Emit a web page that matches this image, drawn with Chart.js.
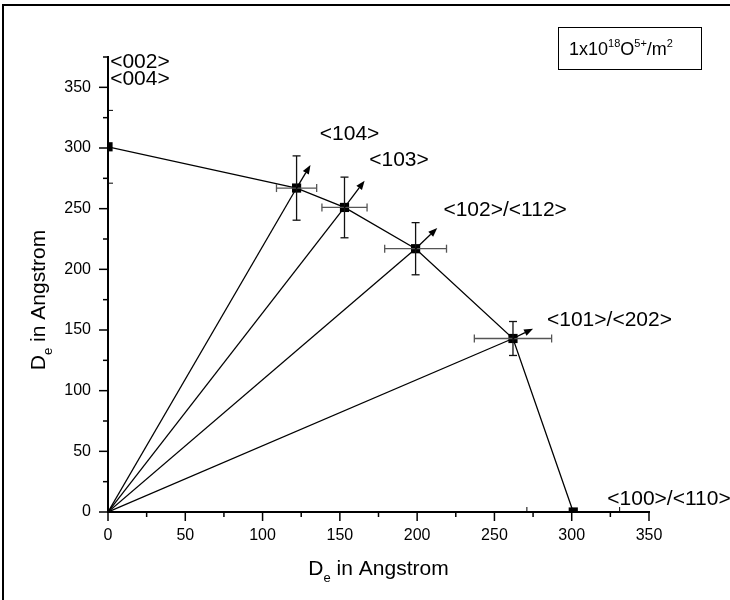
<!DOCTYPE html>
<html>
<head>
<meta charset="utf-8">
<script src="https://cdn.jsdelivr.net/npm/chart.js@4/dist/chart.umd.min.js"></script>
<style>
  body { margin: 0; background: #fff; }
  canvas { display: block; }
</style>
</head>
<body>
<canvas id="chart" width="730" height="600"></canvas>
<script>
// measured points (D_e along x / y, Angstrom)
const xVals = [0, 122, 153, 199, 262, 301];
const yVals = [301, 267, 251, 217, 143, 0];
const xErr = [0, 13, 14.6, 20, 25, 0];
const yErr = [0, 26.5, 25, 21.5, 14, 0];

// arrow tips drawn from each point
const arrowX = [null, 131, 166, 213, 275, null];
const arrowY = [null, 286, 273, 234, 151, null];

// reflection labels and where they sit (data units, left/baseline)
const hklLabels = ['<002>', '<004>', '<104>', '<103>', '<102>/<112>', '<101>/<202>', '<100>/<110>'];
const hklX = [1.4, 1.4, 137, 169, 217, 284, 323];
const hklY = [366, 352, 307, 285, 244, 153, 6];

const xTicks = [0, 50, 100, 150, 200, 250, 300, 350];
const yTicks = [0, 50, 100, 150, 200, 250, 300, 350];
const xMinor = [25, 75, 125, 175, 225, 275, 325];
const yMinor = [25, 75, 125, 175, 225, 275, 325, 375];
const innerTicks = [271, 331];

const FONT = "'Liberation Sans', Arial, sans-serif";

const points = xVals.map((x, i) => ({ x: x, y: yVals[i] }));

// lines from origin to the four middle points
const rays = [1, 2, 3, 4].map(i => ({
  data: [{ x: 0, y: 0 }, points[i]],
  showLine: true,
  borderColor: '#000',
  borderWidth: 1.3,
  pointRadius: 0
}));

const extras = {
  id: 'extras',
  beforeDraw(chart) {
    const ctx = chart.ctx;
    ctx.save();
    ctx.strokeStyle = '#000';
    ctx.lineWidth = 2;
    ctx.beginPath();
    ctx.moveTo(3, 600);
    ctx.lineTo(3, 5);
    ctx.lineTo(730, 5);
    ctx.stroke();
    ctx.restore();
  },
  afterDraw(chart) {
    const ctx = chart.ctx;
    const xs = chart.scales.x, ys = chart.scales.y;
    const area = chart.chartArea;
    const line = (x1, y1, x2, y2) => { ctx.beginPath(); ctx.moveTo(x1, y1); ctx.lineTo(x2, y2); ctx.stroke(); };
    ctx.save();

    // tick marks
    ctx.strokeStyle = '#000';
    ctx.lineWidth = 1.5;
    xTicks.forEach(v => { const p = xs.getPixelForValue(v); line(p, area.bottom, p, area.bottom + 9); });
    xMinor.forEach(v => { const p = xs.getPixelForValue(v); line(p, area.bottom, p, area.bottom + 5); });
    yTicks.forEach(v => { const p = ys.getPixelForValue(v); line(area.left, p, area.left - 9, p); });
    yMinor.forEach(v => { const p = ys.getPixelForValue(v); line(area.left, p, area.left - 5, p); });
    ctx.lineWidth = 1;
    innerTicks.forEach(v => {
      const px = xs.getPixelForValue(v); line(px, area.bottom, px, area.bottom - 5);
      const py = ys.getPixelForValue(v); line(area.left, py, area.left + 5, py);
    });

    // error bars
    ctx.lineWidth = 1.3;
    points.forEach((pt, i) => {
      const cx = xs.getPixelForValue(pt.x), cy = ys.getPixelForValue(pt.y);
      if (xErr[i]) {
        const l = xs.getPixelForValue(pt.x - xErr[i]), r = xs.getPixelForValue(pt.x + xErr[i]);
        ctx.strokeStyle = '#555';
        line(l, cy, r, cy);
        line(l, cy - 4, l, cy + 4);
        line(r, cy - 4, r, cy + 4);
      }
      if (yErr[i]) {
        const t = ys.getPixelForValue(pt.y + yErr[i]), b = ys.getPixelForValue(pt.y - yErr[i]);
        ctx.strokeStyle = '#111';
        line(cx, t, cx, b);
        line(cx - 4, t, cx + 4, t);
        line(cx - 4, b, cx + 4, b);
      }
    });

    // arrows
    ctx.strokeStyle = '#000';
    ctx.fillStyle = '#000';
    points.forEach((pt, i) => {
      if (arrowX[i] == null) return;
      const x0 = xs.getPixelForValue(pt.x), y0 = ys.getPixelForValue(pt.y);
      const x1 = xs.getPixelForValue(arrowX[i]), y1 = ys.getPixelForValue(arrowY[i]);
      const a = Math.atan2(y1 - y0, x1 - x0);
      const hl = 9, hw = 3.5;
      const bx = x1 - hl * Math.cos(a), by = y1 - hl * Math.sin(a);
      ctx.lineWidth = 1.3;
      line(x0, y0, bx, by);
      ctx.beginPath();
      ctx.moveTo(x1, y1);
      ctx.lineTo(bx + hw * Math.sin(a), by - hw * Math.cos(a));
      ctx.lineTo(bx - hw * Math.sin(a), by + hw * Math.cos(a));
      ctx.closePath();
      ctx.fill();
    });

    // reflection labels
    ctx.font = '21px ' + FONT;
    ctx.textAlign = 'left';
    ctx.textBaseline = 'alphabetic';
    hklLabels.forEach((t, i) => {
      ctx.fillText(t, xs.getPixelForValue(hklX[i]), ys.getPixelForValue(hklY[i]));
    });

    // axis titles: D with subscript e
    const drawTitle = (x, y) => {
      ctx.font = '21px ' + FONT;
      ctx.fillText('D', x, y);
      let w = ctx.measureText('D').width;
      ctx.font = '13px ' + FONT;
      ctx.fillText('e', x + w, y + 7);
      w += ctx.measureText('e').width;
      ctx.font = '21px ' + FONT;
      ctx.fillText(' in Angstrom', x + w, y);
    };
    const titleWidth = () => {
      ctx.font = '21px ' + FONT;
      let w = ctx.measureText('D').width + ctx.measureText(' in Angstrom').width;
      ctx.font = '13px ' + FONT;
      return w + ctx.measureText('e').width;
    };
    const tw = titleWidth();
    drawTitle((area.left + area.right) / 2 - tw / 2, 575);
    ctx.save();
    ctx.translate(45, 300);
    ctx.rotate(-Math.PI / 2);
    drawTitle(-tw / 2, 0);
    ctx.restore();

    // dose box
    ctx.lineWidth = 1;
    ctx.strokeRect(558.5, 27.5, 143, 42);
    let x = 569;
    const base = 55;
    const parts = [['1x10', 18, 0], ['18', 11, -8], ['O', 18, 0], ['5+', 11, -8], ['/m', 18, 0], ['2', 11, -8]];
    parts.forEach(p => {
      ctx.font = p[1] + 'px ' + FONT;
      ctx.fillText(p[0], x, base + p[2]);
      x += ctx.measureText(p[0]).width;
    });

    ctx.restore();
  }
};

new Chart(document.getElementById('chart'), {
  type: 'scatter',
  data: {
    datasets: [{
      data: points,
      showLine: true,
      borderColor: '#000',
      borderWidth: 1.3,
      pointStyle: 'rect',
      pointRadius: 6.5,
      pointBackgroundColor: '#000',
      pointBorderColor: '#000',
      pointBorderWidth: 0
    }].concat(rays)
  },
  options: {
    responsive: false,
    animation: false,
    layout: { padding: { left: 0, right: 81, top: 57, bottom: 0 } },
    plugins: { legend: { display: false }, tooltip: { enabled: false } },
    scales: {
      x: {
        type: 'linear',
        min: 0,
        max: 350,
        grid: { display: false, drawTicks: false },
        border: { display: true, color: '#000', width: 2 },
        ticks: { color: '#000', font: { family: FONT, size: 16 }, padding: 14, maxRotation: 0 },
        afterBuildTicks: s => { s.ticks = xTicks.map(v => ({ value: v })); },
        afterFit: s => { s.height = 88; }
      },
      y: {
        type: 'linear',
        min: 0,
        max: 375,
        grid: { display: false, drawTicks: false },
        border: { display: true, color: '#000', width: 2 },
        ticks: { color: '#000', font: { family: FONT, size: 16 }, padding: 17 },
        afterBuildTicks: s => { s.ticks = yTicks.map(v => ({ value: v })); },
        afterFit: s => { s.width = 108; }
      }
    }
  },
  plugins: [extras]
});
</script>
</body>
</html>
